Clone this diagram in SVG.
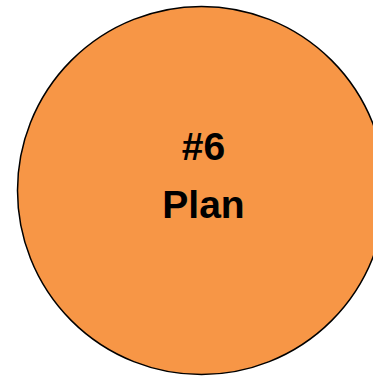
<svg xmlns="http://www.w3.org/2000/svg" width="373" height="376" viewBox="0 0 373 376">
<style>
.lbl{font-family:"Liberation Sans",Arial,sans-serif;font-weight:bold;font-size:39px;fill:#000;text-anchor:middle}
</style>
<rect width="373" height="376" fill="#fff"/>
<g id="node-plan">
<circle cx="201.5" cy="190.5" r="184" fill="#F79646" stroke="#000" stroke-width="1.5"/>
<text class="lbl" x="203.5" y="160">#6</text>
<text class="lbl" x="203.5" y="218">Plan</text>
</g>
<g id="connectors"/>
</svg>
